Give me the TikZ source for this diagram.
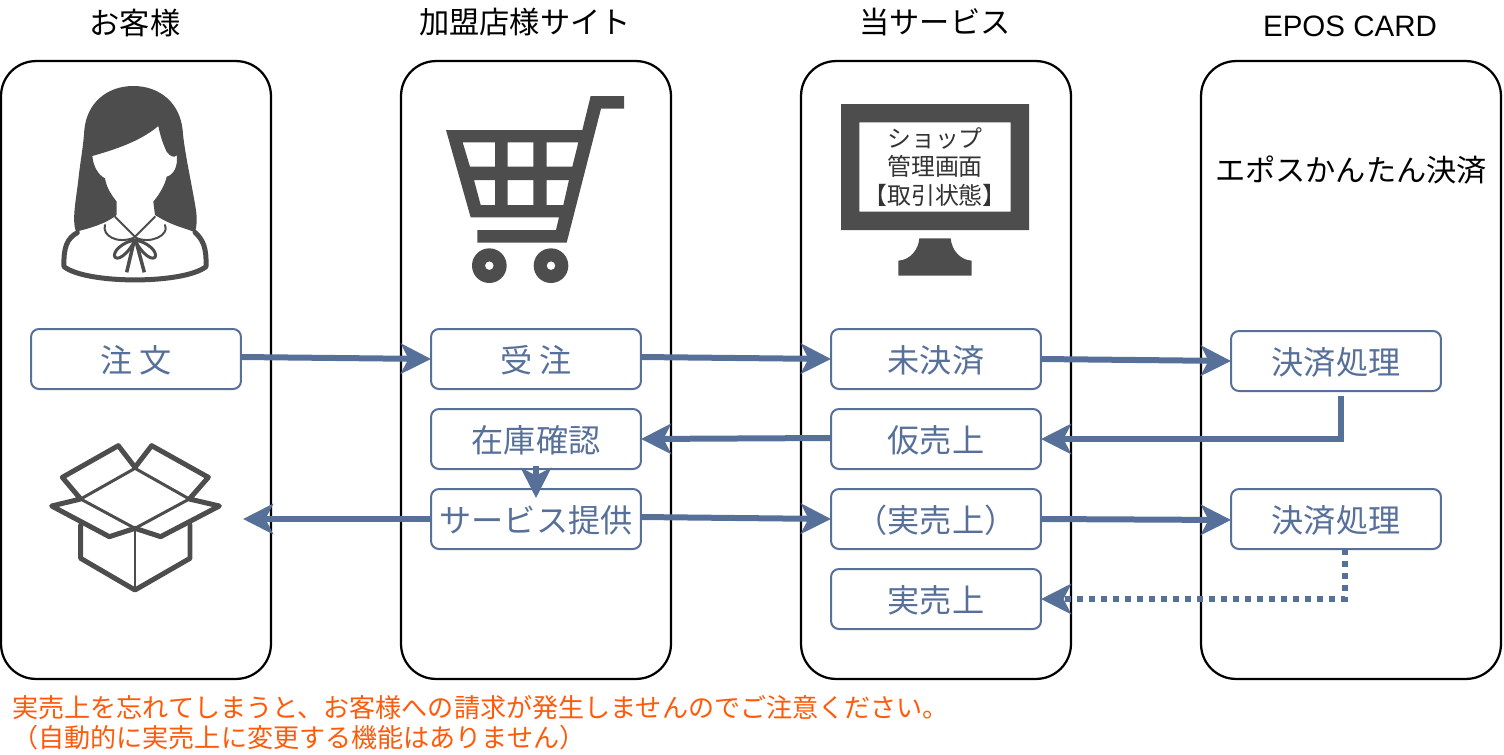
\documentclass[tikz,border=0pt]{standalone}
\usepackage{fontspec}
\setmainfont{Noto Sans CJK JP}
\newfontfamily\cardfont{Liberation Sans}
\usetikzlibrary{calc,arrows.meta}
\definecolor{flowblue}{HTML}{56709A}
\definecolor{icongray}{HTML}{4D4D4D}
\definecolor{notered}{HTML}{FF5A0A}
\begin{document}
\begin{tikzpicture}[
  x=0.02cm, y=-0.02cm,
  lane/.style={draw=black, line width=0.045cm, rounded corners=0.7cm, minimum width=5.4cm, minimum height=12.36cm, outer sep=0pt},
  stage/.style={draw=flowblue, line width=0.04cm, rounded corners=0.16cm, minimum width=4.2cm, minimum height=1.2cm, outer sep=0pt, inner sep=0pt, text=flowblue, text height=0.6cm, text depth=0.046cm, font=\fontsize{18.3}{22}\selectfont},
  heading/.style={font=\fontsize{17.2}{21}\selectfont, inner sep=0pt},
  note/.style={font=\fontsize{14.85}{18}\selectfont, text=notered, anchor=west, inner sep=0pt},
  flow/.style={draw=flowblue, line width=0.12cm, -{Stealth[length=0.6cm, width=0.6cm, inset=0.15cm]}},
  flowdot/.style={flow, dash pattern=on 0.12cm off 0.12cm},
  iconline/.style={draw=icongray, line width=0.1cm, line join=round, line cap=round},
  iconthin/.style={draw=icongray, line width=0.06cm, line join=round, line cap=round}
]
\useasboundingbox (0,0) rectangle (1504,754);

\node[heading] (customer title) at (135,23) {お客様};
\node[heading] (shop title) at (525,22) {加盟店様サイト};
\node[heading] (service title) at (935,22) {当サービス};
\node[heading, font=\cardfont\fontsize{16.8}{21}\selectfont] (card title) at (1350,26) {EPOS CARD};

\node[lane] (customer lane) at (136,370) {};
\node[lane] (shop lane) at (536,370) {};
\node[lane] (service lane) at (936,370) {};
\node[lane, minimum width=6cm] (card lane) at (1351,370) {};

% woman
\begin{scope}[shift={(0,60)}, scale=1/3]
\fill[icongray] (228,515) .. controls (215,480) and (228,420) .. (235,360)
  .. controls (240,310) and (250,260) .. (253,210)
  .. controls (260,130) and (320,78) .. (400,78)
  .. controls (480,78) and (540,130) .. (548,210)
  .. controls (552,270) and (575,370) .. (588,450)
  .. controls (592,480) and (590,500) .. (585,517)
  .. controls (560,505) and (520,500) .. (465,465) -- (460,425)
  .. controls (480,400) and (495,375) .. (500,350)
  .. controls (520,345) and (535,320) .. (530,285)
  .. controls (525,295) and (510,290) .. (500,275)
  .. controls (490,255) and (480,225) .. (475,198)
  .. controls (420,245) and (340,270) .. (277,288)
  .. controls (280,320) and (295,345) .. (315,355)
  .. controls (320,385) and (335,405) .. (350,425) -- (350,465)
  .. controls (320,490) and (270,505) .. (228,515) -- cycle;
\draw[iconline] (232,518) .. controls (200,535) and (190,565) .. (192,620)
  .. controls (260,673) and (550,673) .. (618,620)
  .. controls (620,565) and (610,540) .. (585,517);
\draw[iconthin, line width=0.04cm] (345,470) -- (405,530) -- (465,470);
\draw[iconthin, line width=0.04cm] (315,495) .. controls (305,525) and (350,555) .. (405,532)
  .. controls (450,555) and (510,525) .. (495,495);
\draw[iconthin, line width=0.06cm] (405,540) .. controls (370,545) and (335,575) .. (345,592)
  .. controls (360,605) and (395,565) .. (405,540)
  .. controls (440,545) and (475,575) .. (465,592)
  .. controls (450,605) and (415,565) .. (405,540);
\draw[iconthin, line width=0.07cm, line cap=butt] (403,540) -- (380,637);
\draw[iconthin, line width=0.07cm, line cap=butt] (407,540) -- (433,637);
\end{scope}

% cart
\begin{scope}[shift={(420,80)}, scale=1/3]
\fill[icongray, even odd rule]
  (512,48) -- (612,48) -- (612,86) -- (543,86) -- (440,488) -- (172,488) -- (172,450) -- (408,450)
  -- (417,412) -- (152,412) -- (78,150) -- (487,150) -- cycle
  (128,187) -- (225,187) -- (225,260) -- (150,260) -- cycle
  (263,187) -- (340,187) -- (340,260) -- (263,260) -- cycle
  (380,187) -- (475,187) -- (457,260) -- (380,260) -- cycle
  (162,300) -- (225,300) -- (225,375) -- (182,375) -- cycle
  (263,300) -- (340,300) -- (340,375) -- (263,375) -- cycle
  (380,300) -- (447,300) -- (430,375) -- (380,375) -- cycle
  (208,557) circle[radius=52] (208,557) circle[radius=13]
  (393,557) circle[radius=52] (393,557) circle[radius=13];
\end{scope}

% monitor
\begin{scope}[shift={(820,90)}, scale=1/3]
\fill[icongray, even odd rule] (63,42) rectangle (627,420) (118,97) rectangle (572,365);
\fill[icongray] (298,445) -- (392,445) .. controls (395,480) and (420,510) .. (455,512)
  -- (455,557) -- (235,557) -- (235,512) .. controls (270,510) and (295,480) .. (298,445) -- cycle;
\end{scope}
\node[align=center, inner sep=0pt, text=black!80, font=\fontsize{13.6}{16}\selectfont] (monitor text) at (935,167) {ショップ\\管理画面\\【取引状態】};

% box
\begin{scope}[shift={(30,430)}, scale=1/3]
\draw[iconline] (315,112) -- (265,47) -- (97,142) -- (152,207) -- (65,228) -- (238,320) -- (315,295)
  -- (392,320) -- (568,228) -- (478,207) -- (535,142) -- (365,47) -- cycle;
\draw[iconthin] (315,115) -- (478,207) -- (315,295) -- (152,207) -- cycle;
\draw[iconline] (152,285) -- (152,385) -- (315,480) -- (480,385) -- (480,285);
\draw[iconthin] (315,295) -- (315,480);
\end{scope}

\node[font=\fontsize{17.2}{21}\selectfont, inner sep=0pt] (easy pay) at (1351,170) {エポスかんたん決済};

\node[stage] (order) at (136,359) {注 文};
\node[stage] (accept) at (536,359) {受 注};
\node[stage] (stock) at (536,439) {在庫確認};
\node[stage] (provide) at (536,519) {サービス提供};
\node[stage] (unsettled) at (936,359) {未決済};
\node[stage] (temp sale) at (936,439) {仮売上};
\node[stage] (real paren) at (936,519) {（実売上）};
\node[stage] (real sale) at (936,599) {実売上};
\node[stage] (pay one) at (1336,361) {決済処理};
\node[stage] (pay two) at (1336,519) {決済処理};

\coordinate (parcel) at (243,519);

\draw[flow] ($(order.east)+(0,-2)$) -- (accept.west);
\draw[flow] ($(accept.east)+(0,-2)$) -- (unsettled.west);
\draw[flow] (unsettled.east) -- (pay one.west);
\draw[flow] ($(pay one.south)+(5,5)$) |- (temp sale.east);
\draw[flow] ($(temp sale.west)+(0,-1)$) -- (stock.east);
\draw[flow] ($(stock.south)+(0,-3)$) -- ($(provide.north)+(0,9)$);
\draw[flow] (provide.west) -- (parcel);
\draw[flow] ($(provide.east)+(0,-2)$) -- (real paren.west);
\draw[flow] (real paren.east) -- ($(pay two.west)+(0,1)$);
\draw[flowdot] ($(pay two.south)+(9,0)$) |- (real sale.east);

\node[note] (warn one) at (12,708) {実売上を忘れてしまうと、お客様への請求が発生しませんのでご注意ください。};
\node[note] (warn two) at (12,738) {（自動的に実売上に変更する機能はありません）};
\end{tikzpicture}
\end{document}
